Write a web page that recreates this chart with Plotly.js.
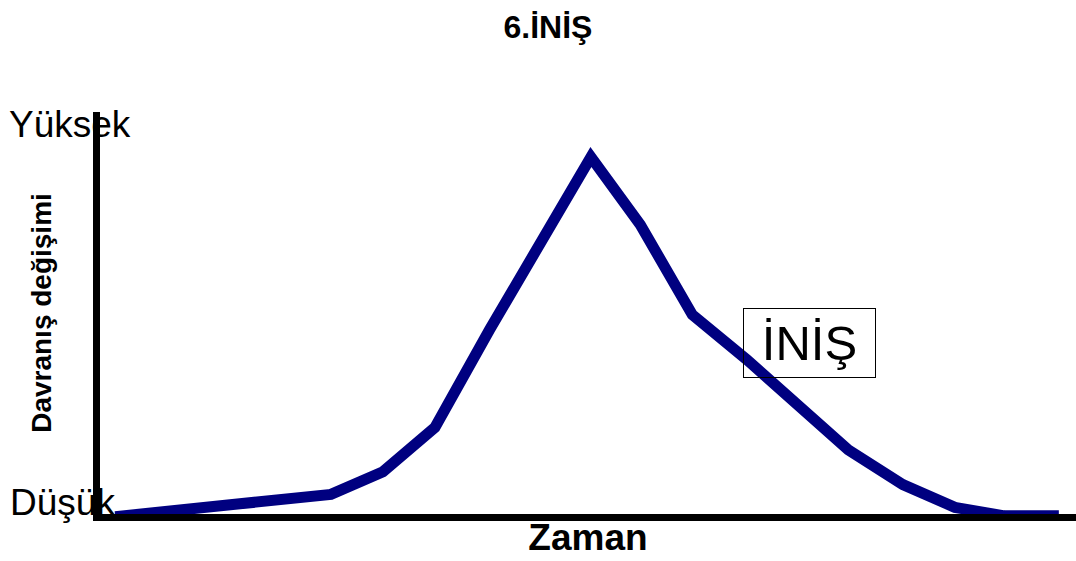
<!DOCTYPE html>
<html>
<head>
<meta charset="utf-8">
<script src="https://cdn.plot.ly/plotly-3.0.1.min.js"></script>
<style>html,body{margin:0;padding:0;background:#fff;}#chart{width:1076px;height:561px;}</style>
</head>
<body>
<div id="chart"></div>
<script>
// Time (arbitrary units) and behaviour change (0 = Düşük, 100 = Yüksek)
const zaman = [0.35, 4.5, 5.5, 6.5, 7.55, 8.55, 9.5, 10.45, 11.45, 12.5, 13.5, 14.45, 15.5, 16.5, 17.45, 18.5];
const degisim = [0.2, 5.7, 11.3, 22.2, 46.3, 68.5, 88.9, 72.2, 50.0, 38.9, 27.8, 16.7, 8.1, 2.5, 0.4, 0.4];

const chartTitle = '6.İNİŞ';
const xTitle = 'Zaman';
const yTitle = 'Davranış değişimi';
const highLabel = 'Yüksek';
const lowLabel = 'Düşük';
const phaseLabel = 'İNİŞ';

const FONT = 'Liberation Sans, Arial, sans-serif';

const trace = {
  x: zaman,
  y: degisim,
  type: 'scatter',
  mode: 'lines',
  line: {color: '#000080', width: 11},
  cliponaxis: false,
  hoverinfo: 'skip'
};

const layout = {
  width: 1076,
  height: 561,
  margin: {l: 100, r: 0, t: 112, b: 46.5},
  paper_bgcolor: '#ffffff',
  plot_bgcolor: '#ffffff',
  showlegend: false,
  font: {family: FONT, color: '#000'},
  title: {
    text: '<b>' + chartTitle + '</b>',
    font: {family: FONT, size: 32, color: '#000'},
    x: 548 / 1076, xref: 'container', xanchor: 'center',
    y: 1 - 27 / 561, yref: 'container', yanchor: 'middle'
  },
  xaxis: {
    range: [0.0577, 18.83],
    showline: true, linecolor: '#000', linewidth: 7,
    showgrid: false, zeroline: false, showticklabels: false, ticks: '',
    title: {text: '<b>' + xTitle + '</b>', font: {family: FONT, size: 37, color: '#000'}, standoff: 7}
  },
  yaxis: {
    range: [0.86, 100],
    showline: true, linecolor: '#000', linewidth: 7,
    showgrid: false, zeroline: false, showticklabels: false, ticks: '',
    title: {text: '<b>' + yTitle + '</b>', font: {family: FONT, size: 28, color: '#000'}, standoff: 36}
  },
  annotations: [
    {
      text: highLabel, xref: 'paper', yref: 'paper',
      x: (70 - 100) / 976, y: (514.5 - 125) / 402.5,
      xanchor: 'center', yanchor: 'middle', showarrow: false,
      font: {family: FONT, size: 37, color: '#000'}
    },
    {
      text: lowLabel, xref: 'paper', yref: 'paper',
      x: (62 - 100) / 976, y: (514.5 - 503) / 402.5,
      xanchor: 'center', yanchor: 'middle', showarrow: false,
      font: {family: FONT, size: 37, color: '#000'}
    },
    {
      text: phaseLabel, xref: 'x', yref: 'y',
      x: 13.70, y: 43.1,
      xanchor: 'center', yanchor: 'middle', showarrow: false,
      width: 131, height: 68, borderpad: 0,
      bordercolor: '#000', borderwidth: 1,
      font: {family: FONT, size: 49, color: '#000'}
    }
  ]
};

Plotly.newPlot('chart', [trace], layout, {displayModeBar: false, staticPlot: true});
</script>
</body>
</html>
